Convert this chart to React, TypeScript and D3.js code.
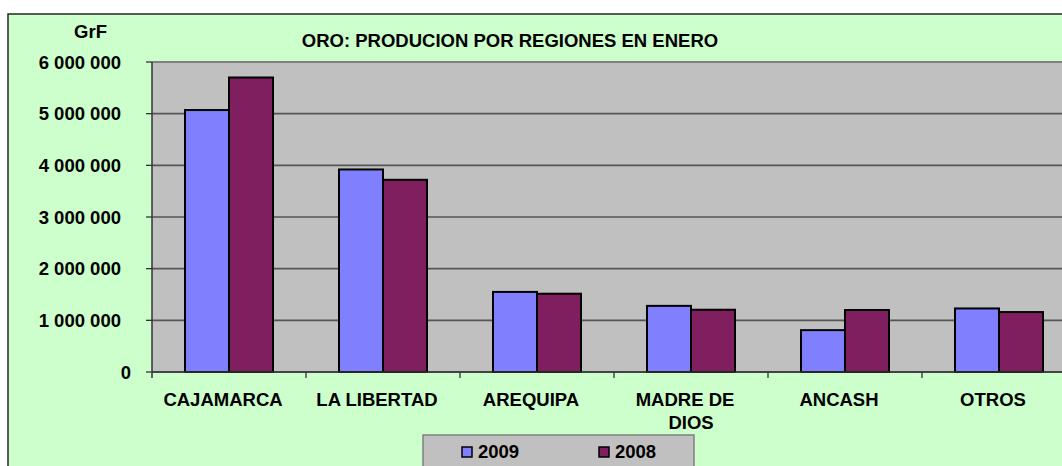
import React from "react";
import * as d3 from "d3";

const categories: string[][] = [
  ["CAJAMARCA"],
  ["LA LIBERTAD"],
  ["AREQUIPA"],
  ["MADRE DE", "DIOS"],
  ["ANCASH"],
  ["OTROS"],
];
const seriesNames = ["2009", "2008"];
const values2009 = [5070000, 3920000, 1550000, 1280000, 810000, 1230000];
const values2008 = [5700000, 3720000, 1515000, 1205000, 1200000, 1160000];
const yTicks = [0, 1000000, 2000000, 3000000, 4000000, 5000000, 6000000];
const seriesColors = ["#8080ff", "#7f1f5f"];
const title = "ORO: PRODUCION POR REGIONES EN ENERO";
const yUnit = "GrF";

const W = 1062;
const H = 466;
const FONT = "Arial, 'Liberation Sans', sans-serif";
const FS = 18.5;

export default function App() {
  const keys = categories.map((c) => c.join(" "));
  const left = 152;
  const plotTop = 62;
  const plotBottom = 372;
  const x0 = d3.scaleBand<string>().domain(keys).range([left, left + 154 * 6]).padding(0);
  const x1 = d3
    .scaleBand<string>()
    .domain(seriesNames)
    .range([0, x0.bandwidth()])
    .paddingInner(0)
    .paddingOuter(0.75);
  const y = d3.scaleLinear().domain([0, 6000000]).range([plotBottom, plotTop]);
  const fmt = (v: number) => d3.format(",")(v).replace(/,/g, " ");
  const data = [values2009, values2008];
  const plotRight = x0.range()[1];

  return (
    <svg
      width={W}
      height={H}
      style={{ position: "absolute", left: 0, top: 0, display: "block" }}
      fontFamily={FONT}
    >
      <rect x={0} y={0} width={W} height={H} fill="#ffffff" />
      {/* chart area */}
      <rect x={8} y={14} width={W + 20} height={H + 20} fill="#ccffcc" stroke="#262626" strokeWidth={1.5} />
      {/* plot area */}
      <rect x={left} y={plotTop} width={plotRight - left} height={plotBottom - plotTop} fill="#c0c0c0" />
      {/* gridlines */}
      {yTicks.map((t) => (
        <line
          key={"g" + t}
          x1={left}
          x2={plotRight}
          y1={y(t)}
          y2={y(t)}
          stroke={t === 6000000 ? "#808080" : "#555555"}
          strokeWidth={t === 6000000 ? 2 : 1.6}
        />
      ))}
      {/* y ticks and labels */}
      {yTicks.map((t) => (
        <g key={"t" + t}>
          <line x1={146} x2={left} y1={y(t)} y2={y(t)} stroke="#333" strokeWidth={1.3} />
          <text
            x={t === 0 ? 131 : 121}
            y={y(t)}
            dy="0.36em"
            textAnchor="end"
            fontSize={FS}
            fontWeight="bold"
            fill="#000"
          >
            {fmt(t)}
          </text>
        </g>
      ))}
      {/* bars */}
      {keys.map((k, i) => (
        <g key={k} transform={`translate(${x0(k)},0)`}>
          {seriesNames.map((s, j) => (
            <rect
              key={s}
              x={x1(s)}
              y={y(data[j][i])}
              width={x1.bandwidth()}
              height={plotBottom - y(data[j][i])}
              fill={seriesColors[j]}
              stroke="#000"
              strokeWidth={2}
            />
          ))}
        </g>
      ))}
      {/* axes */}
      <line x1={left} x2={left} y1={plotTop} y2={plotBottom + 6} stroke="#333" strokeWidth={1.5} />
      <line x1={left} x2={plotRight} y1={plotBottom} y2={plotBottom} stroke="#333" strokeWidth={1.5} />
      {keys.map((k) => (
        <line
          key={"xt" + k}
          x1={(x0(k) as number) + x0.bandwidth()}
          x2={(x0(k) as number) + x0.bandwidth()}
          y1={plotBottom}
          y2={plotBottom + 6}
          stroke="#333"
          strokeWidth={1.3}
        />
      ))}
      {/* category labels */}
      {categories.map((lines, i) => {
        const cx = (x0(keys[i]) as number) + x0.bandwidth() / 2 - 6;
        return (
          <text key={"c" + i} x={cx} y={406} textAnchor="middle" fontSize={FS} fontWeight="bold" fill="#000">
            {lines.map((ln, li) => (
              <tspan key={li} x={li === 0 ? cx : cx + 6} dy={li === 0 ? 0 : 23}>
                {ln}
              </tspan>
            ))}
          </text>
        );
      })}
      {/* title */}
      <text x={510} y={47} textAnchor="middle" fontSize={FS} fontWeight="bold" fill="#000">
        {title}
      </text>
      <text x={90.5} y={38} textAnchor="middle" fontSize={FS} fontWeight="bold" fill="#000">
        {yUnit}
      </text>
      {/* legend */}
      <rect x={423} y={435} width={271} height={60} fill="#c0c0c0" stroke="#808080" strokeWidth={1.5} />
      {seriesNames.map((s, j) => (
        <g key={"l" + s} transform={`translate(${j === 0 ? 462 : 599},447)`}>
          <rect x={0} y={0} width={10} height={10} fill={seriesColors[j]} stroke="#000" strokeWidth={1.5} />
          <text x={16} y={10.5} fontSize={FS} fontWeight="bold" fill="#000">
            {s}
          </text>
        </g>
      ))}
    </svg>
  );
}
